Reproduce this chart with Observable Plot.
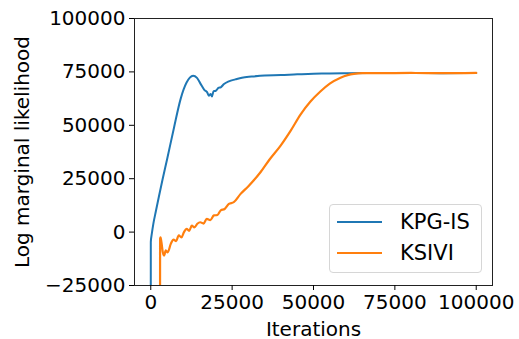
<!DOCTYPE html>
<html>
<head>
<meta charset="utf-8">
<script src="https://cdn.jsdelivr.net/npm/d3@7"></script>
<script src="https://cdn.jsdelivr.net/npm/@observablehq/plot@0.6"></script>
<style>
  html, body { margin: 0; padding: 0; background: #fff; }
  #wrap { position: relative; width: 519px; height: 339px; font-family: "DejaVu Sans", sans-serif; }
  #legend { position: absolute; left: 329px; top: 204px; width: 153px; height: 69px; box-sizing: border-box;
    border: 1px solid #d6d6d6; border-radius: 4px; background: rgba(255,255,255,0.8); }
  .item { position: absolute; left: 7px; height: 22px; display: flex; align-items: center; font-size: 21px; color: #000; }
  .item span.sw { display: inline-block; width: 45px; height: 2px; margin-right: 18px; }
</style>
</head>
<body>
<div id="wrap"></div>
<script>
const seriesNames = ["KPG-IS", "KSIVI"];
const seriesColors = ["#1f77b4", "#ff7f0e"];

const kpgX = [0, 10, 300, 800, 1530, 2550, 3600, 5000, 7150, 9200, 11000, 12000, 13000, 14200, 15300, 16500, 17300, 17900, 18400, 18800, 19300, 20000, 20800, 21500, 22500, 24000, 26000, 28000, 31000, 35000, 40000, 45000, 50000, 55000, 60000, 70000, 80000, 90000, 100000];
const kpgY = [-40000, -4700, -1000, 4000, 9500, 17000, 24500, 34000, 49000, 62500, 70000, 72300, 73200, 72200, 69400, 66500, 65500, 63800, 64700, 63500, 66000, 66200, 67500, 67800, 69300, 70600, 71500, 72300, 72800, 73300, 73500, 73900, 74100, 74300, 74400, 74500, 74500, 74400, 74500];

const ksiviX = [2850, 2860, 3000, 3300, 3700, 4100, 4600, 5200, 6150, 7000, 7800, 8600, 9400, 10200, 11000, 11800, 12600, 13400, 14300, 15200, 16200, 17200, 18300, 19400, 20500, 21500, 22700, 24000, 25500, 27600, 30000, 33700, 36500, 39900, 43000, 46000, 49000, 52100, 55000, 58300, 60500, 62400, 65000, 70000, 80000, 90000, 100000];
const ksiviY = [-40000, -3100, -2500, -5000, -9500, -11000, -8500, -9500, -5500, -3500, -4200, -1500, -2500, 0, 1500, 600, 3000, 2200, 3900, 4600, 4000, 6200, 5600, 7800, 8000, 10200, 10800, 13200, 14000, 17900, 21500, 28000, 34000, 40500, 47500, 55000, 61000, 65800, 69500, 72300, 73500, 74100, 74400, 74400, 74500, 74400, 74500];

const xTicks = [0, 25000, 50000, 75000, 100000];
const yTicks = [-25000, 0, 25000, 50000, 75000, 100000];

const kpg = kpgX.map((x, i) => ({x, y: kpgY[i]}));
const ksivi = ksiviX.map((x, i) => ({x, y: ksiviY[i]}));
const fmt = d => d < 0 ? "\u2212" + (-d) : String(d);

const chart = Plot.plot({
  width: 519,
  height: 339,
  marginLeft: 134,
  marginRight: 27,
  marginTop: 18,
  marginBottom: 54,
  style: {fontFamily: "DejaVu Sans, sans-serif", fontSize: "20px", color: "#000", background: "#fff"},
  x: {domain: [-5000, 105000]},
  y: {domain: [-25000, 100000]},
  marks: [
    Plot.line(kpg, {x: "x", y: "y", stroke: seriesColors[0], strokeWidth: 2, curve: "monotone-x", clip: true}),
    Plot.line(ksivi, {x: "x", y: "y", stroke: seriesColors[1], strokeWidth: 2.2, curve: "monotone-x", clip: true}),
    Plot.frame({stroke: "#222", strokeWidth: 1}),
    Plot.axisX({ticks: xTicks, tickFormat: fmt, tickSize: 5, tickPadding: 4, fontSize: 20,
      label: "Iterations", labelAnchor: "center", labelArrow: "none", labelOffset: 50}),
    Plot.axisY({ticks: yTicks, tickFormat: fmt, tickSize: 5, tickPadding: 4, fontSize: 20,
      label: "Log marginal likelihood", labelAnchor: "center", labelArrow: "none", labelOffset: 120})
  ]
});

const wrap = document.getElementById("wrap");
wrap.appendChild(chart);
const legend = document.createElement("div");
legend.id = "legend";
seriesNames.forEach((name, i) => {
  const it = document.createElement("div");
  it.className = "item";
  it.style.top = (6 + i * 31) + "px";
  it.innerHTML = `<span class="sw" style="background:${seriesColors[i]}"></span>${name}`;
  legend.appendChild(it);
});
wrap.appendChild(legend);
</script>
</body>
</html>
